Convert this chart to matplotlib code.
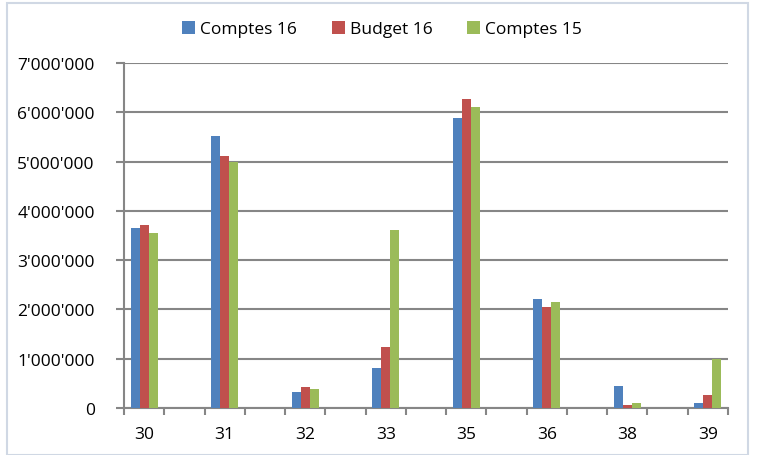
import matplotlib
matplotlib.use("Agg")
from matplotlib import pyplot as plt
from matplotlib.ticker import FuncFormatter, MultipleLocator
import numpy as np

plt.rcParams['font.family'] = ['Open Sans', 'DejaVu Sans']

# data
categories = ['30', '31', '32', '33', '35', '36', '38', '39']
comptes16 = [3650000, 5520000, 320000, 810000, 5880000, 2210000, 450000, 100000]
budget16 = [3710000, 5110000, 430000, 1240000, 6270000, 2050000, 60000, 270000]
comptes15 = [3550000, 4990000, 390000, 3610000, 6100000, 2150000, 100000, 1000000]
series_names = ['Comptes 16', 'Budget 16', 'Comptes 15']
colors = ['#4F81BD', '#C0504D', '#9BBB59']

fig = plt.figure(figsize=(7.58, 4.56), dpi=100)
ax = fig.add_axes([124/758, 1-409/456, 604/758, 345/456])

# categories sit on every other slot, with an empty slot between them
x = np.arange(len(categories)) * 2
w = 0.225
for k, (vals, name, col) in enumerate(zip([comptes16, budget16, comptes15], series_names, colors)):
    ax.bar(x + (k-1)*w, vals, width=w, color=col, label=name, zorder=3)

ax.set_xlim(-0.5, x[-1] + 0.5)
ax.set_ylim(0, 7000000)
ax.yaxis.set_major_locator(MultipleLocator(1000000))
ax.yaxis.set_major_formatter(FuncFormatter(lambda v, p: f"{int(v):,}".replace(',', "'")))
ax.grid(axis='y', color='#868686', linewidth=1.5, zorder=0)

ax.set_xticks(x)
ax.set_xticklabels(categories)
ax.set_xticks(np.arange(-0.5, x[-1] + 1), minor=True)
ax.tick_params(axis='x', which='major', length=0, pad=13, labelsize=12.5)
ax.tick_params(axis='x', which='minor', length=5, width=1.5, color='#868686')
ax.tick_params(axis='y', length=6, width=1.5, color='#868686', labelsize=12.5, pad=15)

for s in ['top', 'right']:
    ax.spines[s].set_visible(False)
for s in ['left', 'bottom']:
    ax.spines[s].set_color('#868686')
    ax.spines[s].set_linewidth(1.5)

ax.legend(loc='center', bbox_to_anchor=(382/758, 1-30/456), bbox_transform=fig.transFigure,
          ncol=3, frameon=False, fontsize=12.5, handlelength=0.75, handleheight=0.75,
          columnspacing=2.0, handletextpad=0.3, borderaxespad=0)

# chart frame
fig.patches.append(plt.Rectangle((7/758, 0), 741/758, 1-4/456, transform=fig.transFigure,
                                 fill=False, edgecolor='#D0D8E4', linewidth=1.5))

fig.savefig('out.png', dpi=100)
